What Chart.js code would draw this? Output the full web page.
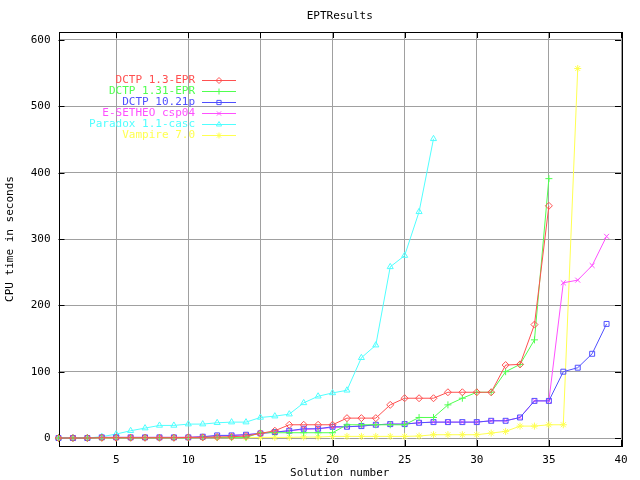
<!DOCTYPE html>
<html>
<head>
<meta charset="utf-8">
<script src="https://cdn.jsdelivr.net/npm/chart.js@4/dist/chart.umd.min.js"></script>
<style>
html, body { margin: 0; padding: 0; background: #fff; }
</style>
</head>
<body>
<canvas id="chart" width="640" height="480"></canvas>
<script>
// CPU time (s) per solution number, solution 1 first
const dctp13 = [0, 0, 0, 0.5, 0.5, 0.5, 0.5, 0.5, 0.5, 1, 1, 1.5, 2, 3, 7, 11, 20, 20, 20, 20, 30, 30, 30, 50, 60, 60, 60, 69, 69, 69, 69, 110, 111, 171, 350];
const dctp131 = [0, 0, 0, 0.5, 0.5, 0.5, 0.5, 0.5, 0.5, 0.5, 1, 1, 1, 1, 8, 8, 8, 8, 8, 8, 20, 20, 20, 20, 20, 31, 31, 50, 60, 69, 69, 100, 111, 148, 391];
const dctp1021 = [0, 0, 0, 1, 1, 1, 1, 1, 1, 1, 2, 4, 4, 5, 7, 9, 11, 14, 14, 17, 17, 18, 20, 21, 21, 23, 24, 24, 24, 24, 26, 26, 31, 56, 56, 100, 106, 127, 172];
const esetheo = [0, 0, 0, 1, 1, 1, 1, 1, 1, 1, 2, 3, 4, 5, 7, 9, 11, 13, 14, 16, 17, 18, 20, 21, 21, 23, 24, 24, 24, 24, 26, 26, 31, 56, 56, 234, 238, 260, 304];
const paradox = [0, 0, 0, 2, 6, 11, 15, 19, 19, 21, 21, 23, 24, 24, 31, 33, 36, 53, 63, 68, 72, 121, 140, 258, 275, 341, 451];
const vampire = [0, 0, 0, 0, 0.5, 0.5, 0.5, 0.5, 0.5, 0.5, 0.5, 0.5, 0.5, 0.5, 1, 1, 1, 1.5, 1.5, 2.5, 2.5, 2.5, 2.5, 2.5, 2.5, 3, 5, 5, 5, 5, 7.5, 10, 18, 18, 20, 20, 557];

const seriesNames = ['DCTP 1.3-EPR', 'DCTP 1.31-EPR', 'DCTP 10.21p', 'E-SETHEO csp04', 'Paradox 1.1-casc', 'Vampire 7.0'];
const seriesValues = [dctp13, dctp131, dctp1021, esetheo, paradox, vampire];
const seriesColors = ['#ff5050', '#50ff50', '#5050ff', '#ff50ff', '#50ffff', '#ffff50'];
const seriesMarkers = ['rectRot', 'cross', 'rect', 'crossRot', 'triangle', 'star'];

const xTicks = [5, 10, 15, 20, 25, 30, 35, 40];
const yTicks = [0, 100, 200, 300, 400, 500, 600];

const FONT = "'DejaVu Sans Mono', monospace";
Chart.defaults.font.family = FONT;
Chart.defaults.font.size = 11;
Chart.defaults.color = '#000';

const datasets = seriesNames.map((name, i) => ({
    label: name,
    data: seriesValues[i].map((v, k) => ({ x: k + 1, y: v })),
    borderColor: seriesColors[i],
    backgroundColor: 'rgba(0,0,0,0)',
    pointBorderColor: seriesColors[i],
    pointBackgroundColor: 'rgba(0,0,0,0)',
    pointStyle: seriesMarkers[i],
    pointRadius: 3.5,
    pointBorderWidth: 1,
    borderWidth: 1,
    tension: 0,
    clip: false
}));

// border box, inner tick marks, title and legend in gnuplot style
const gnuplotBits = {
    id: 'gnuplotBits',
    beforeDatasetsDraw(chart) {
        const { ctx, chartArea: a, scales } = chart;
        ctx.save();
        ctx.strokeStyle = '#000';
        ctx.lineWidth = 1;
        ctx.beginPath();
        yTicks.forEach(v => {
            const py = Math.round(scales.y.getPixelForValue(v)) + 0.5;
            ctx.moveTo(a.left, py); ctx.lineTo(a.left + 6, py);
            ctx.moveTo(a.right, py); ctx.lineTo(a.right - 6, py);
        });
        xTicks.forEach(v => {
            const px = Math.round(scales.x.getPixelForValue(v)) + 0.5;
            ctx.moveTo(px, a.bottom); ctx.lineTo(px, a.bottom - 6);
            ctx.moveTo(px, a.top); ctx.lineTo(px, a.top + 6);
        });
        ctx.stroke();
        ctx.strokeRect(Math.round(a.left) + 0.5, Math.round(a.top) + 0.5,
            Math.round(a.right - a.left), Math.round(a.bottom - a.top));
        ctx.restore();
    },
    afterDraw(chart) {
        const { ctx, chartArea: a } = chart;
        ctx.save();
        ctx.font = '11px ' + FONT;
        ctx.fillStyle = '#000';
        ctx.textAlign = 'center';
        ctx.textBaseline = 'middle';
        ctx.fillText('EPTResults', (a.left + a.right) / 2, 16);

        ctx.textAlign = 'right';
        chart.data.datasets.forEach((ds, i) => {
            const y = Math.round(80 + i * 10.9) + 0.5;
            ctx.fillStyle = ds.borderColor;
            ctx.fillText(ds.label, 195, y);
            ctx.strokeStyle = ds.borderColor;
            ctx.lineWidth = 1;
            ctx.beginPath();
            ctx.moveTo(202, y);
            ctx.lineTo(236, y);
            ctx.stroke();
            ctx.fillStyle = 'rgba(0,0,0,0)';
            Chart.helpers.drawPoint(ctx, {
                pointStyle: ds.pointStyle, radius: 3, borderWidth: 1, rotation: 0
            }, 219, y);
        });
        ctx.restore();
    }
};

new Chart(document.getElementById('chart'), {
    type: 'line',
    data: { datasets },
    plugins: [gnuplotBits],
    options: {
        responsive: false,
        animation: false,
        layout: { padding: { top: 32, right: 19, left: 0, bottom: 0 } },
        plugins: { legend: { display: false }, tooltip: { enabled: false }, title: { display: false } },
        scales: {
            x: {
                type: 'linear',
                min: 1,
                max: 40,
                afterFit(scale) { scale.height = 34; },
                afterBuildTicks(scale) { scale.ticks = xTicks.map(v => ({ value: v })); },
                grid: { color: '#a0a0a0', drawTicks: false },
                border: { display: false },
                ticks: { padding: 8, maxRotation: 0, autoSkip: false },
                title: { display: true, text: 'Solution number', padding: { top: 0, bottom: 0 } }
            },
            y: {
                type: 'linear',
                min: -12,
                max: 612,
                afterFit(scale) { scale.width = 58.5; },
                afterBuildTicks(scale) { scale.ticks = yTicks.map(v => ({ value: v })); },
                grid: { color: '#a0a0a0', drawTicks: false },
                border: { display: false },
                ticks: { padding: 8, autoSkip: false },
                title: { display: true, text: 'CPU time in seconds', padding: { top: 4, bottom: 0 } }
            }
        }
    }
});
</script>
</body>
</html>
